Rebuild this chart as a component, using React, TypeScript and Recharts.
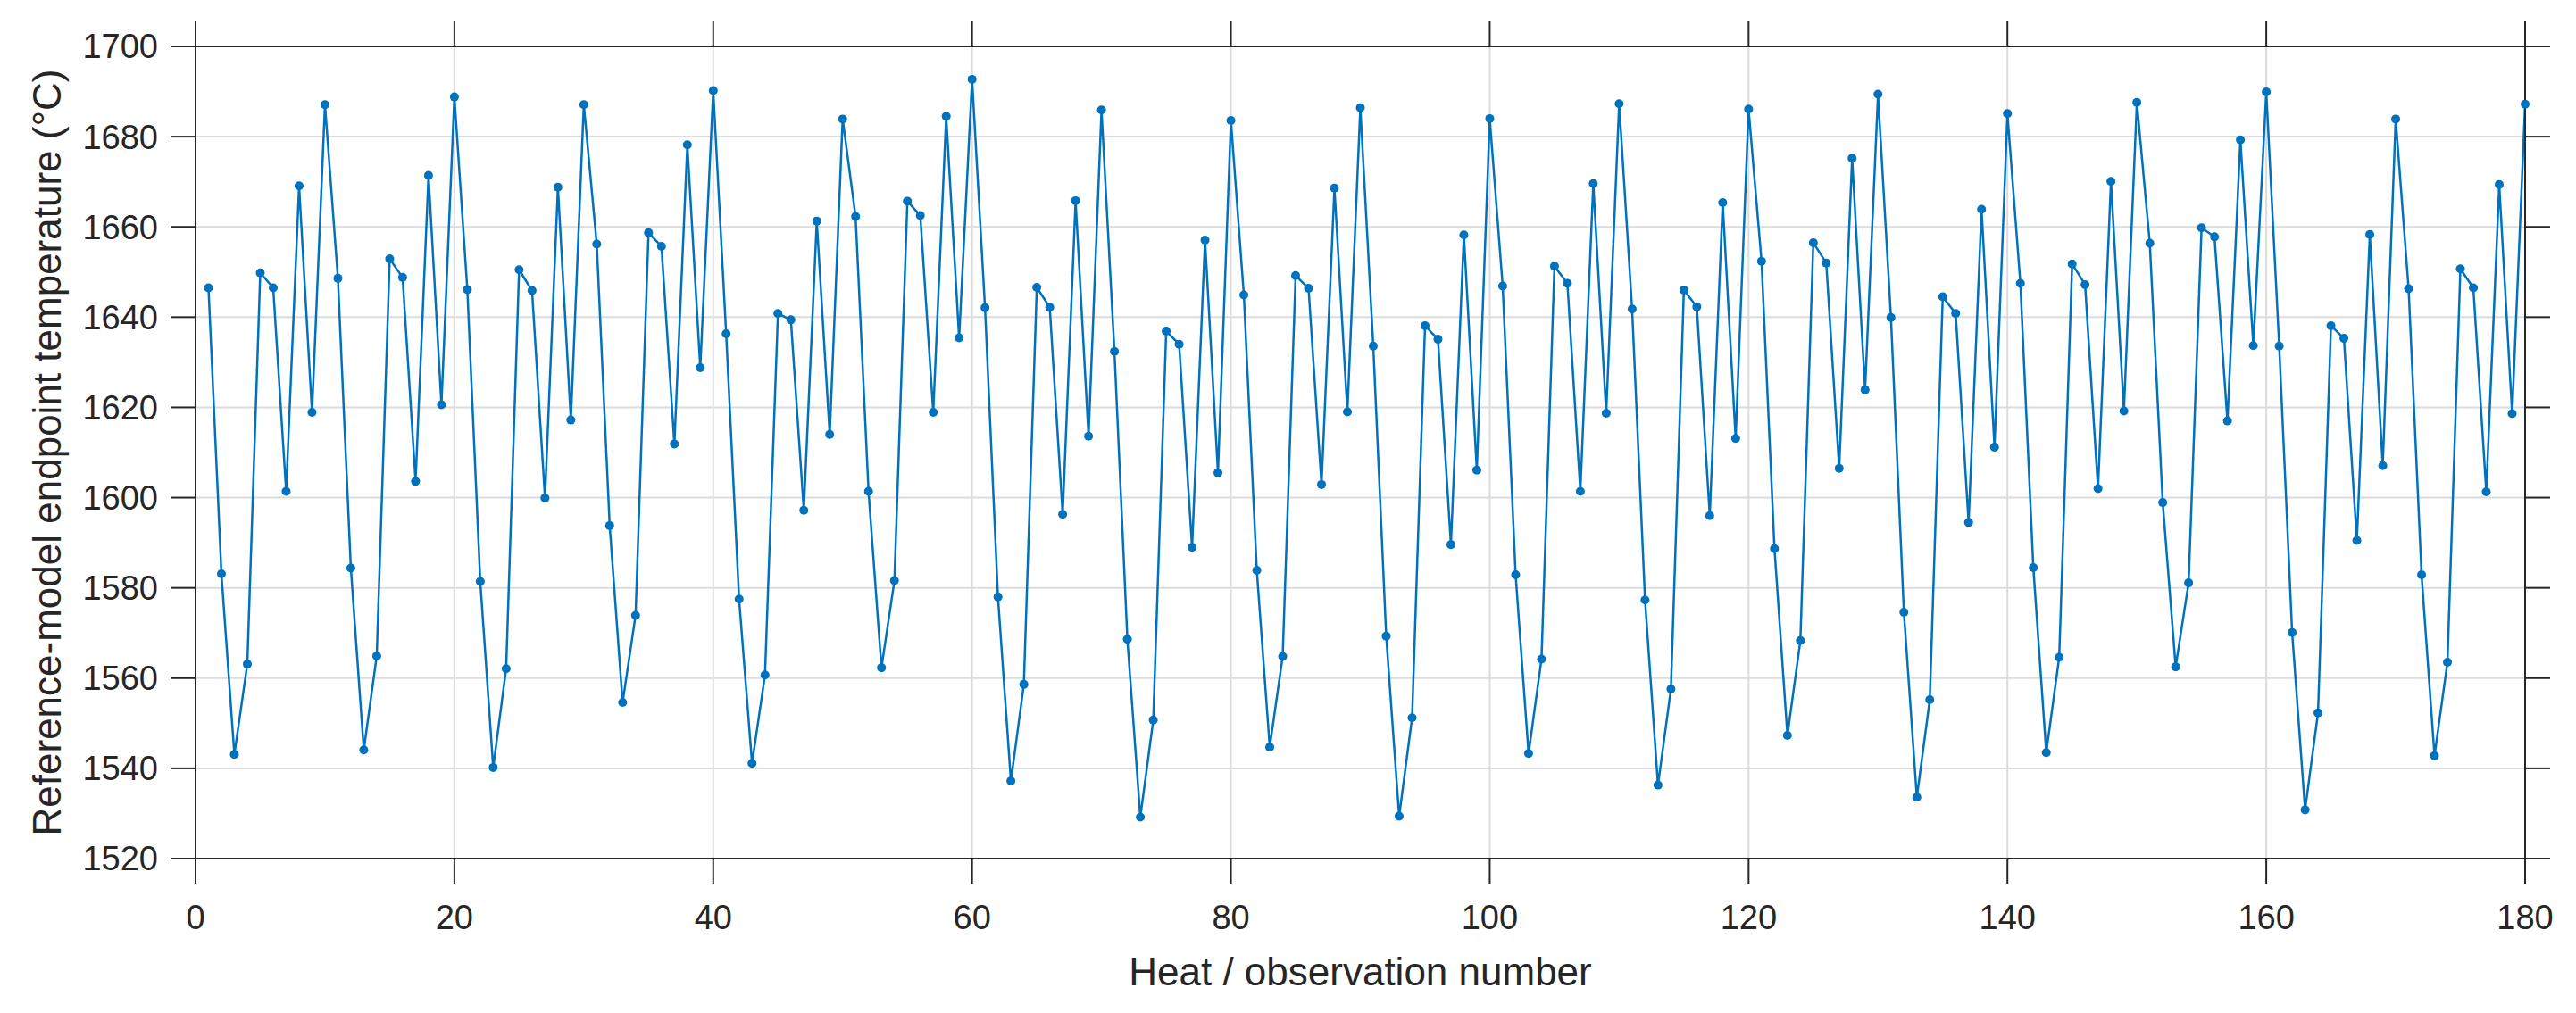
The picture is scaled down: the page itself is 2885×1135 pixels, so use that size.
import React from "react";
import {
  LineChart,
  Line,
  XAxis,
  YAxis,
  CartesianGrid,
} from "recharts";

// endpoint temperatures (°C), heats 1–180
const temps001to030 = [
  1646.5, 1583.1, 1543.1, 1563.1, 1649.8, 1646.5, 1601.4, 1669.1, 1618.9, 1687.1,
  1648.6, 1584.4, 1544.1, 1564.9, 1652.9, 1648.8, 1603.6, 1671.4, 1620.6, 1688.8,
  1646.1, 1581.4, 1540.2, 1562.1, 1650.5, 1645.9, 1599.9, 1668.8, 1617.2, 1687.1,
];
const temps031to060 = [
  1656.2, 1593.8, 1554.6, 1573.9, 1658.7, 1655.7, 1611.9, 1678.2, 1628.8, 1690.2,
  1636.3, 1577.5, 1541.1, 1560.7, 1640.8, 1639.4, 1597.2, 1661.3, 1614.0, 1683.9,
  1662.3, 1601.4, 1562.3, 1581.6, 1665.7, 1662.5, 1618.9, 1684.5, 1635.4, 1692.7,
];
const temps061to090 = [
  1642.1, 1578.0, 1537.2, 1558.6, 1646.6, 1642.2, 1596.3, 1665.8, 1613.6, 1685.9,
  1632.4, 1568.6, 1529.2, 1550.7, 1636.9, 1634.0, 1589.0, 1657.1, 1605.5, 1683.6,
  1644.9, 1583.9, 1544.7, 1564.8, 1649.2, 1646.4, 1602.9, 1668.6, 1619.0, 1686.4,
];
const temps091to120 = [
  1633.6, 1569.3, 1529.4, 1551.2, 1638.1, 1635.1, 1589.6, 1658.2, 1606.1, 1684.0,
  1646.9, 1582.9, 1543.3, 1564.2, 1651.3, 1647.5, 1601.4, 1669.6, 1618.7, 1687.3,
  1641.8, 1577.3, 1536.3, 1557.6, 1646.0, 1642.3, 1596.0, 1665.4, 1613.1, 1686.1,
];
const temps121to150 = [
  1652.4, 1588.7, 1547.3, 1568.3, 1656.5, 1652.0, 1606.5, 1675.2, 1623.9, 1689.4,
  1639.9, 1574.6, 1533.6, 1555.2, 1644.5, 1640.8, 1594.5, 1663.9, 1611.2, 1685.1,
  1647.5, 1584.5, 1543.5, 1564.6, 1651.8, 1647.2, 1602.0, 1670.1, 1619.2, 1687.6,
];
const temps151to180 = [
  1656.4, 1598.9, 1562.5, 1581.1, 1659.8, 1657.8, 1617.0, 1679.3, 1633.7, 1689.9,
  1633.6, 1570.1, 1530.8, 1552.3, 1638.1, 1635.3, 1590.5, 1658.3, 1607.1, 1683.9,
  1646.3, 1582.9, 1542.8, 1563.5, 1650.7, 1646.5, 1601.3, 1669.4, 1618.6, 1687.2,
];

const xTicks = [0, 20, 40, 60, 80, 100, 120, 140, 160, 180];
const yTicks = [1520, 1540, 1560, 1580, 1600, 1620, 1640, 1660, 1680, 1700];

const xTitle = "Heat / observation number";
const yTitle = "Reference-model endpoint temperature (°C)";

const temps = [
  ...temps001to030,
  ...temps031to060,
  ...temps061to090,
  ...temps091to120,
  ...temps121to150,
  ...temps151to180,
];
const data = temps.map((temp, i) => ({ heat: i + 1, temp }));

const INK = "#262626";
const BLUE = "#0072BD";
const FONT = '"Liberation Sans", Arial, Helvetica, sans-serif';

const tickStyle = { fontSize: 38, fill: INK, fontFamily: FONT };
const axisLine = { stroke: INK, strokeWidth: 2 };
const tickLine = { stroke: INK, strokeWidth: 2 };

// box axes keep their tick lines but print no labels
const noLabel = () => <g />;

// rotated y title, parked left of the tick labels
const renderYTitle = () => (
  <text
    x={68}
    y={507}
    transform="rotate(-90 68 507)"
    textAnchor="middle"
    fontSize={44}
    fill={INK}
    fontFamily={FONT}
  >
    {yTitle}
  </text>
);

export default function App() {
  return (
    <div style={{ margin: -8, fontFamily: FONT, background: "#fff" }}>
      <LineChart
        width={2885}
        height={1135}
        data={data}
        margin={{ top: 51, right: 56, bottom: 13, left: 69 }}
      >
        <CartesianGrid stroke="#dcdcdc" strokeWidth={2} />
        <XAxis
          dataKey="heat"
          type="number"
          domain={[0, 180]}
          ticks={xTicks}
          interval={0}
          height={160}
          tickSize={28}
          tickMargin={24}
          tick={tickStyle}
          axisLine={axisLine}
          tickLine={tickLine}
          label={{
            value: xTitle,
            position: "insideBottom",
            offset: 18,
            fontSize: 44,
            fill: INK,
            fontFamily: FONT,
          }}
        />
        {/* top and right axes only close the box (MATLAB-style, ticks out) */}
        <XAxis
          xAxisId="top"
          dataKey="heat"
          orientation="top"
          type="number"
          domain={[0, 180]}
          ticks={xTicks}
          interval={0}
          height={1}
          tickSize={28}
          tick={noLabel}
          axisLine={axisLine}
          tickLine={tickLine}
        />
        <YAxis
          type="number"
          domain={[1520, 1700]}
          ticks={yTicks}
          interval={0}
          width={150}
          tickSize={28}
          tickMargin={14}
          tick={tickStyle}
          axisLine={axisLine}
          tickLine={tickLine}
          label={{ content: renderYTitle }}
        />
        <YAxis
          yAxisId="right"
          orientation="right"
          type="number"
          domain={[1520, 1700]}
          ticks={yTicks}
          interval={0}
          width={1}
          tickSize={28}
          tick={noLabel}
          axisLine={axisLine}
          tickLine={tickLine}
        />
        {/* invisible twin so the box axes get registered */}
        <Line
          xAxisId="top"
          yAxisId="right"
          dataKey="temp"
          stroke="none"
          dot={false}
          activeDot={false}
          legendType="none"
          isAnimationActive={false}
        />
        <Line
          type="linear"
          dataKey="temp"
          stroke={BLUE}
          strokeWidth={2.5}
          dot={{ r: 5, fill: BLUE, stroke: "none" }}
          activeDot={false}
          isAnimationActive={false}
        />
      </LineChart>
    </div>
  );
}
